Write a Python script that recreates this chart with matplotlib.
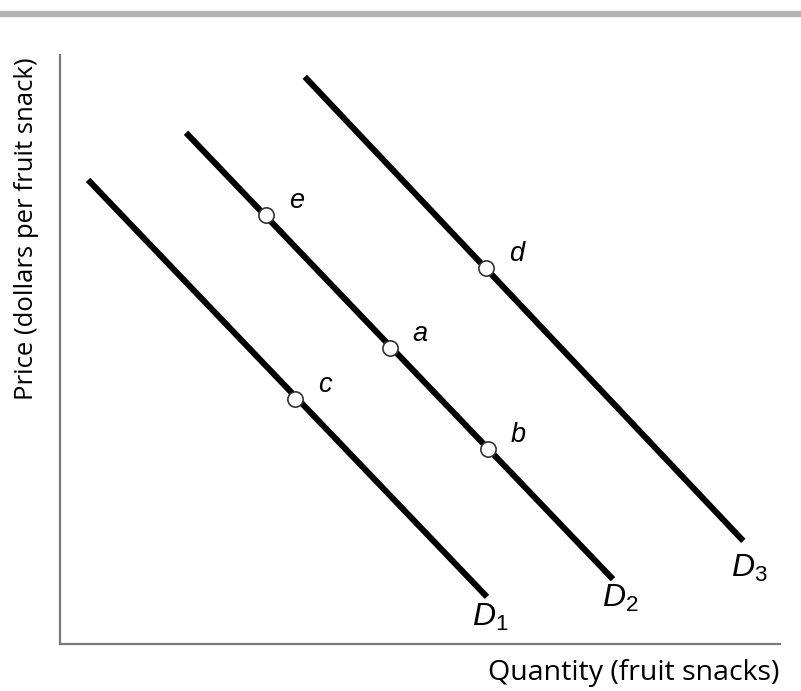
import matplotlib.pyplot as plt
from matplotlib.patches import Rectangle

# demand curves: (quantity, price) at the two ends, arbitrary units 0-10
curve_names = ['D1', 'D2', 'D3']
curve_q = [[0.39, 5.93], [1.75, 7.68], [3.40, 9.49]]
curve_p = [[7.88, 0.80], [8.68, 1.10], [9.63, 1.75]]
curve_labels = ['$D_1$', '$D_2$', '$D_3$']

# marked points
point_names = ['e', 'a', 'b', 'c', 'd']
point_q = [2.86, 4.58, 5.94, 3.26, 5.92]
point_p = [7.29, 5.03, 3.31, 4.16, 6.38]

plt.rcParams['font.family'] = ['Open Sans', 'DejaVu Sans']
plt.rcParams['mathtext.fontset'] = 'custom'
plt.rcParams['mathtext.it'] = 'Liberation Sans:italic'
plt.rcParams['mathtext.rm'] = 'Liberation Sans'
plt.rcParams['mathtext.default'] = 'it'

fig = plt.figure(figsize=(8.01, 6.91), dpi=100)
W, H = 801, 691
ax = fig.add_axes([60 / W, 1 - 644 / H, 720 / W, 589 / H])
ax.set_xlim(0, 10)
ax.set_ylim(0, 10)

# grey rule along the top
fig.patches.append(Rectangle((0, 1 - 16 / H), 1, 5 / H, transform=fig.transFigure,
                             color='#b4b4b4', zorder=0))

for q, p in zip(curve_q, curve_p):
    ax.plot(q, p, color='black', lw=4.4, solid_capstyle='butt', zorder=2)

ax.plot(point_q, point_p, 'o', ms=11, mfc='white', mec='#333333', mew=1.2,
        zorder=3, clip_on=False)

for name, q, p in zip(point_names, point_q, point_p):
    ax.annotate(name, (q, p), xytext=(22, 10), textcoords='offset points',
                fontsize=19.5, family='Liberation Sans', style='italic',
                ha='center', va='center')

label_pos = [(5.97, 0.45), (7.78, 0.77), (9.57, 1.29)]
for lab, (lq, lp) in zip(curve_labels, label_pos):
    ax.text(lq, lp, lab, fontsize=23, ha='center', va='center')

for s in ['top', 'right']:
    ax.spines[s].set_visible(False)
for s in ['left', 'bottom']:
    ax.spines[s].set_color('#7a7a7a')
    ax.spines[s].set_linewidth(1.6)
ax.set_xticks([])
ax.set_yticks([])

fig.text(779 / W, 1 - 673 / H, 'Quantity (fruit snacks)', fontsize=20.5,
         ha='right', va='center')
fig.text(27 / W, 1 - 57 / H, 'Price (dollars per fruit snack)', fontsize=18.5,
         rotation=90, ha='center', va='top')

fig.savefig('out.png', dpi=100)
